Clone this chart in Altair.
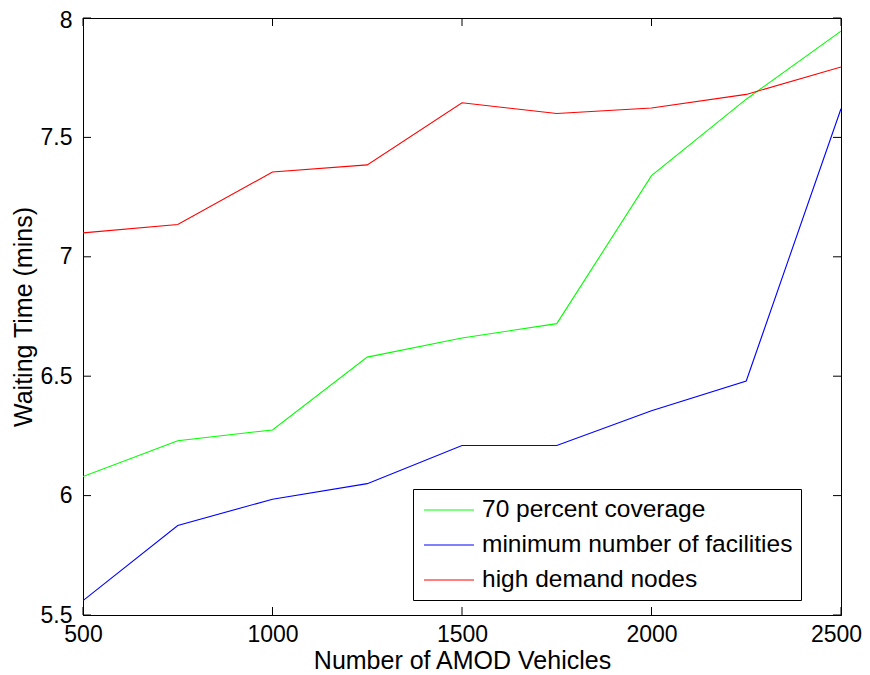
import altair as alt
import pandas as pd

vehicles = [500, 750, 1000, 1250, 1500, 1750, 2000, 2250, 2500]
green_vals = [6.08, 6.23, 6.275, 6.58, 6.66, 6.72, 7.34, 7.66, 7.945]
blue_vals = [5.56, 5.875, 5.985, 6.05, 6.21, 6.21, 6.355, 6.48, 7.62]
red_vals = [7.10, 7.135, 7.355, 7.385, 7.645, 7.60, 7.623, 7.68, 7.795]
series_names = ["70 percent coverage", "minimum number of facilities", "high demand nodes"]
series_colors = ["#00ff00", "#0000ff", "#ff0000"]
x_ticks = [500, 1000, 1500, 2000, 2500]
y_ticks = [5.5, 6, 6.5, 7, 7.5, 8]

rows = []
for name, vals in zip(series_names, [green_vals, blue_vals, red_vals]):
    for v, w in zip(vehicles, vals):
        rows.append({"x": v, "y": w, "series": name})
df = pd.DataFrame(rows)

W, H = 758, 597
FONT = "Liberation Sans"
LFS = 23   # tick labels
TFS = 25   # axis titles
GFS = 24.5 # legend labels

xscale = alt.Scale(domain=[500, 2500], nice=False, zero=False)
yscale = alt.Scale(domain=[5.5, 8], nice=False, zero=False)

lines = alt.Chart(df).mark_line(strokeWidth=1.1, clip=True).encode(
    x=alt.X("x:Q", scale=xscale,
            axis=alt.Axis(title="Number of AMOD Vehicles", values=x_ticks, ticks=False,
                          labelFlush=False, labelPadding=8, titlePadding=2, grid=False,
                          format="d",
                          labelOffset={"condition": {"test": "datum.value == 2500", "value": -5},
                                       "value": 0})),
    y=alt.Y("y:Q", scale=yscale,
            axis=alt.Axis(title="Waiting Time (mins)", values=y_ticks, ticks=False,
                          labelPadding=11, titlePadding=4, grid=False, format="~g",
                          labelOffset={"condition": {"test": "datum.value == 8", "value": 2},
                                       "value": 0})),
    color=alt.Color("series:N",
                    scale=alt.Scale(domain=series_names, range=series_colors),
                    sort=series_names,
                    legend=alt.Legend(title=None, orient="none", legendX=330, legendY=471,
                                      symbolType="M-2,0H2", symbolSize=625, symbolStrokeWidth=1,
                                      symbolOffset=15,
                                      labelFontSize=GFS, labelFont=FONT, labelLimit=400,
                                      strokeColor="black", padding=8, rowPadding=10,
                                      fillColor="white", labelOffset=20)),
)

xt = pd.DataFrame({"t": x_ticks})
yt = pd.DataFrame({"t": y_ticks})
tick_len = 8
xb = alt.Chart(xt).mark_rule(color="black", strokeWidth=1).encode(
    x=alt.X("t:Q", scale=xscale), y=alt.value(H), y2=alt.value(H - tick_len))
xtop = alt.Chart(xt).mark_rule(color="black", strokeWidth=1).encode(
    x=alt.X("t:Q", scale=xscale), y=alt.value(0), y2=alt.value(tick_len))
yl = alt.Chart(yt).mark_rule(color="black", strokeWidth=1).encode(
    y=alt.Y("t:Q", scale=yscale), x=alt.value(0), x2=alt.value(tick_len))
yr = alt.Chart(yt).mark_rule(color="black", strokeWidth=1).encode(
    y=alt.Y("t:Q", scale=yscale), x=alt.value(W), x2=alt.value(W - tick_len))

chart = alt.layer(xb, xtop, yl, yr, lines).properties(
    width=W, height=H,
    autosize=alt.AutoSizeParams(type="none"),
    padding={"left": 75, "top": 10, "right": 21, "bottom": 58},
).configure_view(stroke="black", strokeWidth=1).configure_axis(
    domainColor="black", labelColor="black", titleColor="black",
    labelFont=FONT, titleFont=FONT, labelFontSize=LFS, titleFontSize=TFS,
    titleFontWeight="normal",
)

chart.save("out.html", embed_options={"renderer": "svg", "actions": False})
